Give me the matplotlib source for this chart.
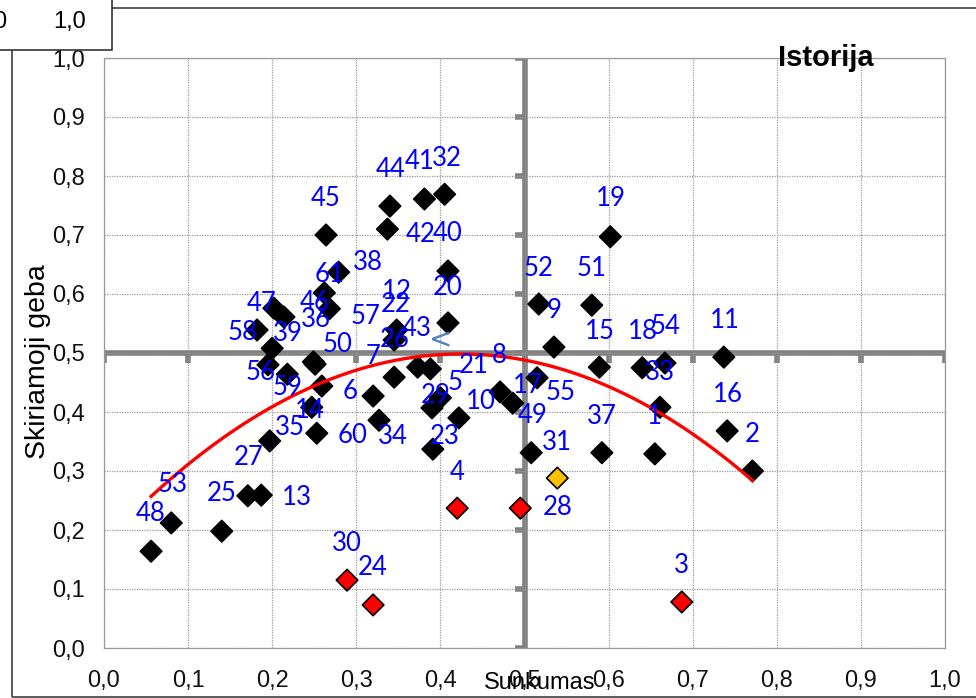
import numpy as np
import matplotlib.pyplot as plt
from matplotlib.patches import Rectangle
from matplotlib.ticker import FuncFormatter, MultipleLocator

# item numbers, difficulty (Sunkumas) and discrimination (Skiriamoji geba)
item_no = list(range(1, 62))
sunkumas = [0.655, 0.771, 0.687, 0.420, 0.422, 0.259, 0.320, 0.471, 0.535, 0.400,
            0.737, 0.348, 0.187, 0.247, 0.589, 0.741, 0.486, 0.640, 0.602, 0.409,
            0.388, 0.345, 0.391, 0.320, 0.140, 0.345, 0.171, 0.495, 0.390, 0.289,
            0.539, 0.405, 0.661, 0.327, 0.197, 0.249, 0.592, 0.279, 0.218, 0.409,
            0.381, 0.337, 0.373, 0.340, 0.264, 0.214, 0.202, 0.056, 0.508, 0.251,
            0.580, 0.517, 0.080, 0.667, 0.515, 0.200, 0.268, 0.182, 0.195, 0.253, 0.262]
skiriamoji = [0.329, 0.300, 0.078, 0.237, 0.390, 0.444, 0.427, 0.434, 0.510, 0.424,
              0.493, 0.539, 0.259, 0.408, 0.476, 0.368, 0.415, 0.475, 0.697, 0.551,
              0.473, 0.522, 0.337, 0.073, 0.198, 0.459, 0.258, 0.237, 0.407, 0.115,
              0.288, 0.769, 0.408, 0.386, 0.351, 0.485, 0.331, 0.637, 0.464, 0.639,
              0.761, 0.710, 0.476, 0.749, 0.700, 0.561, 0.576, 0.164, 0.331, 0.481,
              0.581, 0.583, 0.212, 0.483, 0.458, 0.508, 0.575, 0.539, 0.480, 0.364, 0.602]
red_items = [3, 4, 24, 28, 30]
orange_items = [31]

# where each data label sits relative to its marker (pixels, y down)
label_offsets = [(0, -37), (0, -36), (0, -36), (0, -36), (-4, -35), (28, 5), (0, -40), (-1, -36), (0, -37), (40, 4),
                 (1, -37), (0, -38), (36, 2), (-2, 3), (1, -36), (1, -36), (15, -18), (1, -36), (1, -38), (0, -35),
                 (43, -3), (1, -36), (12, -13), (0, -37), (0, -38), (1, -38), (1, -38), (37, -1), (4, -12), (0, -37),
                 (0, -36), (2, -36), (0, -35), (14, 16), (20, -13), (2, -42), (0, -36), (29, -10), (1, -41), (0, -37),
                 (-5, -38), (33, 5), (-1, -39), (1, -37), (0, -37), (31, -15), (-12, -5), (0, -38), (1, -37), (22, -20),
                 (0, -37), (0, -36), (1, -38), (1, -37), (23, 15), (-12, 24), (36, 8), (-14, 3), (20, 23), (36, 2), (5, -18)]

W, H = 976, 698
fig = plt.figure(figsize=(W / 100, H / 100), dpi=100)
ax = fig.add_axes([104 / W, 1 - 648 / H, 841 / W, 590 / H])

x = np.array(sunkumas)
y = np.array(skiriamoji)
colors = []
for n in item_no:
    if n in red_items:
        colors.append('#FF0000')
    elif n in orange_items:
        colors.append('#FFC000')
    else:
        colors.append('black')

# grid and dotted frame
ax.set_xlim(0, 1)
ax.set_ylim(0, 1)
ax.xaxis.set_major_locator(MultipleLocator(0.1))
ax.yaxis.set_major_locator(MultipleLocator(0.1))
ax.grid(True, color='#999999', lw=0.9, ls=(0, (1, 1)), zorder=0)
for s in ax.spines.values():
    s.set_color('#999999')
    s.set_linestyle((0, (1, 1)))
    s.set_linewidth(0.9)
fmt = FuncFormatter(lambda v, _: f"{v:.1f}".replace('.', ','))
ax.xaxis.set_major_formatter(fmt)
ax.yaxis.set_major_formatter(fmt)
ax.tick_params(length=0, labelsize=17, pad=16, labelcolor='#111111')
ax.tick_params(axis='y', pad=14)
for t in ax.get_xticklabels() + ax.get_yticklabels():
    t.set_fontfamily('Liberation Sans')

# crossing axes at 0.5 with small tick marks
ticks = np.arange(0, 1.01, 0.1)
ax.axhline(0.5, color='#808080', lw=4, zorder=1)
ax.axvline(0.5, color='#808080', lw=4, zorder=1)
ax.plot(ticks, np.full_like(ticks, 0.5), ls='none', marker=3, ms=7, mew=4, color='#808080', zorder=1)
ax.plot(np.full_like(ticks, 0.5), ticks, ls='none', marker=0, ms=7, mew=4, color='#808080', zorder=1)

ax.scatter(x, y, marker='D', s=120, c=colors, edgecolors='black', linewidths=1.2, zorder=3)

# 2nd order polynomial trend line
coef = np.polyfit(x, y, 2)
xs = np.linspace(x.min(), x.max(), 200)
ax.plot(xs, np.polyval(coef, xs), color='red', lw=2.4, zorder=4)

for n, xi, yi, (dx, dy) in zip(item_no, x, y, label_offsets):
    ax.annotate(str(n), (xi, yi), xytext=(dx, -dy), textcoords='offset pixels',
                ha='center', va='center', color='#0000FF', fontsize=18.5,
                fontfamily='Lato', zorder=5)

ax.text(0.400, 0.522, '<', color='#4F81BD', fontsize=20, ha='center', va='center', zorder=5)

ax.text(0.858, 1.0, 'Istorija', transform=ax.transAxes, ha='center', va='center',
        fontsize=21, fontweight='bold', fontfamily='Liberation Sans')

ax.set_xlabel('Sunkumas', fontsize=17, fontfamily='Liberation Sans')
ax.xaxis.set_label_coords((540 - 104) / 841, -(683 - 648) / 590)
ax.xaxis.label.set_va('center')
ax.set_ylabel('Skiriamoji geba', fontsize=20.5, fontfamily='Liberation Sans')
ax.yaxis.set_label_coords(-(104 - 38) / 841, (648 - 362) / 590)
ax.yaxis.label.set_va('center')

# outer chart frame and the stray label box in the corner
fig.add_artist(Rectangle((12 / W, 1 - 697 / H), 2, (697 - 8) / H, transform=fig.transFigure,
                         fill=False, edgecolor='#404040', lw=1.2))
fig.add_artist(Rectangle((-0.01, 1 - 50 / H), 112 / W + 0.01, 50 / H + 0.01, transform=fig.transFigure,
                         facecolor='white', edgecolor='#333333', lw=1.2))
fig.text(70 / W, 1 - 22 / H, '1,0', ha='center', va='center', fontsize=17, fontfamily='Liberation Sans')
fig.text(6 / W, 1 - 22 / H, '0', ha='right', va='center', fontsize=17, fontfamily='Liberation Sans')

fig.savefig('out.png', dpi=100)
